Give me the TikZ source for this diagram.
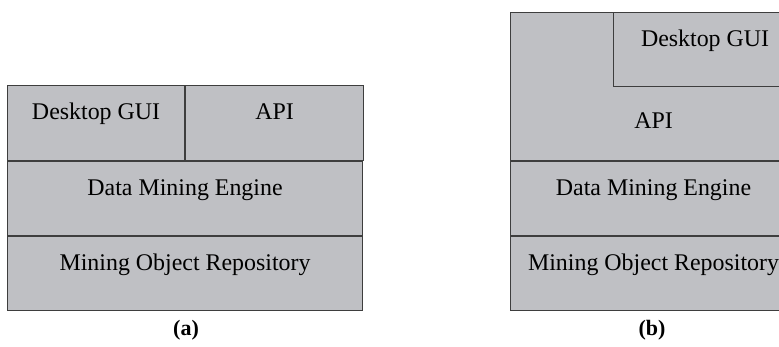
\documentclass[tikz,border=0pt]{standalone}
\usepackage{fontspec}
\setmainfont{Liberation Serif}
\usepackage{tikz}
\usetikzlibrary{positioning}
\definecolor{boxgray}{RGB}{191,192,196}
\definecolor{linegray}{RGB}{62,62,62}
\tikzset{layer/.style={draw=linegray, fill=boxgray, line width=1.1pt, inner sep=0pt,
    anchor=north west, text height=34pt, text depth=40pt,
    font=\fontsize{23.9}{28}\selectfont},
  caption/.style={font=\fontsize{22}{26}\selectfont\bfseries}}

\begin{document}
\begin{tikzpicture}[x=1pt,y=1pt]
        \useasboundingbox (0,0) rectangle (779,346);
        % (a)
        \node[layer, minimum width=177pt, text depth=41pt] (guiA) at (7,261) {Desktop GUI};
        \node[layer, minimum width=178pt, text depth=41pt] (apiA) at (guiA.north east) {API};
        \node[layer, minimum width=355pt] (engA) at (guiA.south west) {Data Mining Engine};
        \node[layer, minimum width=355pt] (repoA) at (engA.south west) {Mining Object Repository};
        \node[caption] (capA) at (186,16) {(a)};

        % (b)
        \node[layer, minimum width=286pt, text height=116pt, text depth=32pt] (apiB) at (510,334) {API};
        \node[layer, minimum width=183pt] (guiB) at (613,334) {Desktop GUI};
        \node[layer, minimum width=286pt] (engB) at (apiB.south west) {Data Mining Engine};
        \node[layer, minimum width=286pt] (repoB) at (engB.south west) {Mining Object Repository};
        \node[caption] (capB) at (652,16) {(b)};
\end{tikzpicture}
\end{document}
